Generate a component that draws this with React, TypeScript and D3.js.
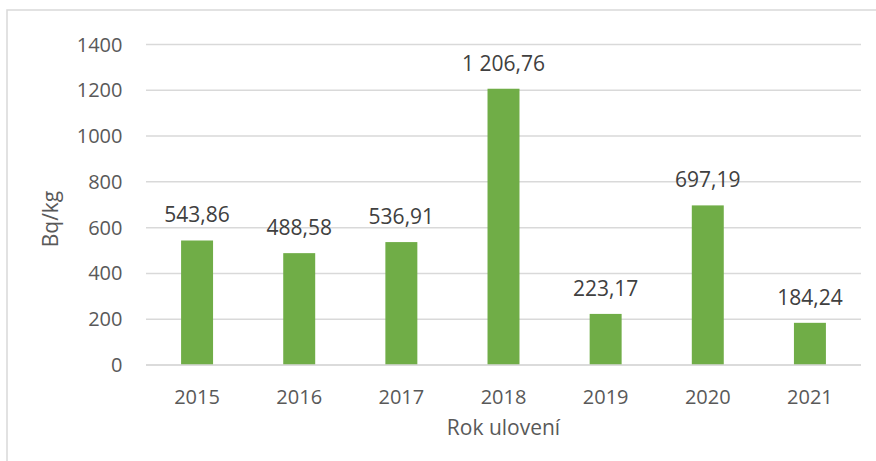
import React from "react";
import * as d3 from "d3";

const years = ["2015", "2016", "2017", "2018", "2019", "2020", "2021"];
const values = [543.86, 488.58, 536.91, 1206.76, 223.17, 697.19, 184.24];
const yTicks = [0, 200, 400, 600, 800, 1000, 1200, 1400];
const yTitle = "Bq/kg";
const xTitle = "Rok ulovení";

const W = 876;
const H = 461;
const FONT = "'Open Sans', 'Noto Sans', sans-serif";
const TEXT = "#595959";
const GRID = "#D9D9D9";
const BAR = "#70AD47";

const czech = d3.formatLocale({
  decimal: ",",
  thousands: "\u00a0",
  grouping: [3],
  currency: ["", ""],
});
const fmt = czech.format(",.2f");

export default function App() {
  const left = 146;
  const right = 861;
  const top = 44.5;
  const bottom = 365;

  const x = d3.scaleBand<string>().domain(years).range([left, right]).padding(0);
  const y = d3.scaleLinear().domain([0, 1400]).range([bottom, top]);
  const barW = x.bandwidth() * 0.313;

  return (
    <svg
      width={W}
      height={H}
      style={{ position: "fixed", left: 0, top: 0, background: "#fff" }}
      fontFamily={FONT}
    >
      <rect x={0} y={0} width={W} height={H} fill="#fff" />
      <rect x={7} y={10} width={W + 20} height={H + 20} fill="none" stroke={GRID} strokeWidth={1.5} />
      {yTicks.map((t) => (
        <g key={t}>
          <line x1={left} x2={right} y1={y(t)} y2={y(t)} stroke={GRID} strokeWidth={1.5} />
          <text x={122.5} y={y(t)} dy="0.35em" textAnchor="end" fontSize={20} fill={TEXT}>
            {t}
          </text>
        </g>
      ))}
      {years.map((c, i) => {
        const cx = (x(c) as number) + x.bandwidth() / 2;
        const v = values[i];
        return (
          <g key={c}>
            <rect x={cx - barW / 2} y={y(v)} width={barW} height={bottom - y(v)} fill={BAR} />
            <text x={cx} y={y(v) - 18} textAnchor="middle" fontSize={21} fill="#404040">
              {fmt(v)}
            </text>
            <text x={cx} y={404} textAnchor="middle" fontSize={20} fill={TEXT}>
              {c}
            </text>
          </g>
        );
      })}
      <line x1={left} x2={right} y1={bottom} y2={bottom} stroke={GRID} strokeWidth={1.5} />
      <text x={(left + right) / 2} y={435} textAnchor="middle" fontSize={21} fill={TEXT}>
        {xTitle}
      </text>
      <text
        transform={`translate(57.5, 219) rotate(-90)`}
        textAnchor="middle"
        fontSize={21}
        fill={TEXT}
      >
        {yTitle}
      </text>
    </svg>
  );
}
